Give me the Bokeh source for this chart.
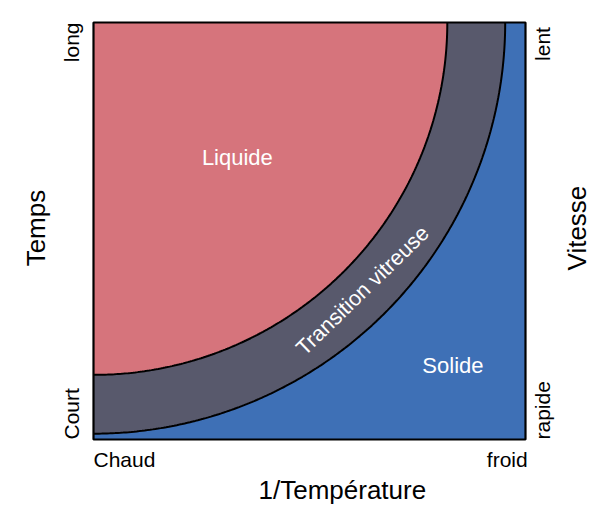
import numpy as np
from bokeh.plotting import figure
from bokeh.models import Label, Range1d
from bokeh.embed import file_html
from bokeh.resources import INLINE

# ---- data ----
regions = ["Liquide", "Transition vitreuse", "Solide"]
region_colors = ["#d6747c", "#58596c", "#3e70b6"]
# boundaries (quarter ellipses from the top-left corner), as fraction of each axis span
boundary_rx = [0.819, 0.953]   # liquid/glass, glass/solid
boundary_ry = [0.845, 0.986]
x_ticks = ["Chaud", "froid"]
y_left_ticks = ["Court", "long"]
y_right_ticks = ["rapide", "lent"]
x_title = "1/Température"
y_left_title = "Temps"
y_right_title = "Vitesse"

W, H = 595, 516
p = figure(width=W, height=H, output_backend="svg", toolbar_location=None,
           x_axis_type=None, y_axis_type=None,
           x_range=Range1d(-93 / 432, (W - 93) / 432),
           y_range=Range1d((439 - H) / 417, 439 / 417),
           min_border=0)
p.grid.visible = False
p.outline_line_color = None
p.background_fill_color = "white"
p.border_fill_color = "white"

t = np.linspace(0, np.pi / 2, 240)

def arc(rx, ry):
    return rx * np.sin(t), 1 - ry * np.cos(t)

# solid (everything)
p.quad(left=[0], right=[1], bottom=[0], top=[1], fill_color=region_colors[2], line_color=None)
# glass
gx, gy = arc(boundary_rx[1], boundary_ry[1])
p.patch(np.concatenate([[0], gx, [0]]), np.concatenate([[1], gy, [1]]),
        fill_color=region_colors[1], line_color=None)
# liquid
lx, ly = arc(boundary_rx[0], boundary_ry[0])
p.patch(np.concatenate([[0], lx, [0]]), np.concatenate([[1], ly, [1]]),
        fill_color=region_colors[0], line_color=None)
p.line(gx, gy, line_color="black", line_width=2)
p.line(lx, ly, line_color="black", line_width=2)
# frame
p.quad(left=[0], right=[1], bottom=[0], top=[1], fill_color=None, line_color="black", line_width=2.2)

F = "Liberation Sans"

def lab(x, y, text, size, **kw):
    p.add_layout(Label(x=x, y=y, text=text, text_font=F, text_font_size=size, **kw))

# region labels
lab(0.333, 0.647, regions[0], "22px", text_color="white", text_align="center")
lab(0.832, 0.147, regions[2], "22px", text_color="white", text_align="center")
lab(0.623, 0.357, regions[1], "21.5px", text_color="white", text_align="center",
    text_baseline="middle", angle=0.77)

# x labels
lab(0.0, -0.075, x_ticks[0], "21px", text_color="black", text_align="left")
lab(1.005, -0.075, x_ticks[1], "21px", text_color="black", text_align="right")
lab(0.576, -0.156, x_title, "26px", text_color="black", text_align="center")

# left labels
lab(-0.0244, 0.0, y_left_ticks[0], "21px", text_color="black", text_align="left", angle=np.pi / 2)
lab(-0.0244, 1.0, y_left_ticks[1], "21px", text_color="black", text_align="right", angle=np.pi / 2)
lab(-0.0994, 0.507, y_left_title, "26px", text_color="black", text_align="center", angle=np.pi / 2)

# right labels
lab(1.0655, 0.0, y_right_ticks[0], "21px", text_color="black", text_align="left", angle=np.pi / 2)
lab(1.0665, 0.989, y_right_ticks[1], "21px", text_color="black", text_align="right", angle=np.pi / 2)
lab(1.1528, 0.507, y_right_title, "26px", text_color="black", text_align="center", angle=np.pi / 2)

open("out.html", "w").write(file_html(p, INLINE))
